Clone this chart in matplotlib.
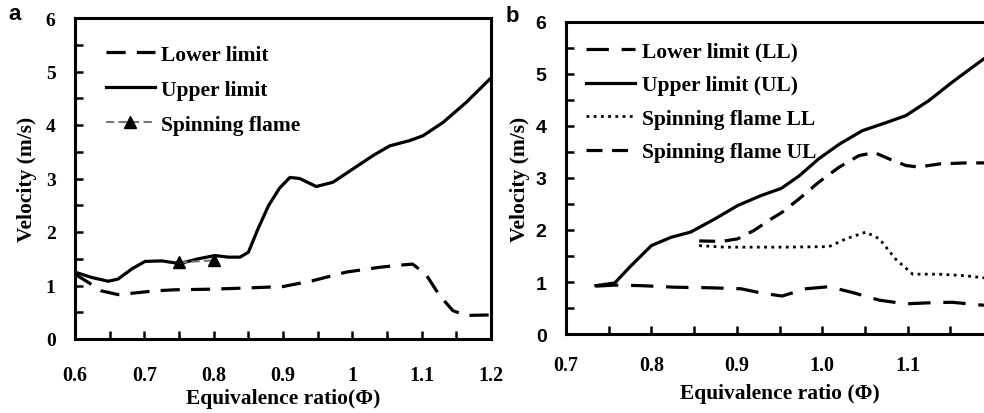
import matplotlib
matplotlib.use("Agg")
import matplotlib.pyplot as plt
from matplotlib.ticker import MultipleLocator

# ---------------- Panel a data ----------------
a_upper_x = [0.600, 0.624, 0.648, 0.662, 0.682, 0.701, 0.725, 0.751, 0.778, 0.802,
             0.821, 0.838, 0.850, 0.864, 0.879, 0.895, 0.910, 0.924, 0.948, 0.972,
             1.001, 1.030, 1.054, 1.083, 1.102, 1.131, 1.164, 1.200]
a_upper_y = [1.25, 1.15, 1.08, 1.12, 1.31, 1.45, 1.46, 1.41, 1.50, 1.56,
             1.53, 1.53, 1.62, 2.06, 2.49, 2.82, 3.02, 3.00, 2.85, 2.93,
             3.18, 3.43, 3.61, 3.71, 3.80, 4.05, 4.42, 4.88]
a_lower_x = [0.600, 0.619, 0.638, 0.662, 0.686, 0.715, 0.744, 0.792, 0.840, 0.900,
             0.943, 0.991, 1.039, 1.068, 1.087, 1.106, 1.126, 1.145, 1.164, 1.200]
a_lower_y = [1.21, 1.06, 0.90, 0.83, 0.86, 0.90, 0.92, 0.93, 0.95, 0.98,
             1.09, 1.25, 1.34, 1.38, 1.40, 1.21, 0.81, 0.53, 0.44, 0.45]
a_spin_x = [0.75, 0.80]
a_spin_y = [1.43, 1.47]

# ---------------- Panel b data ----------------
b_upper_x = [0.735, 0.757, 0.776, 0.800, 0.823, 0.846, 0.874, 0.901, 0.928, 0.952,
             0.973, 0.996, 1.020, 1.047, 1.074, 1.098, 1.125, 1.152, 1.180, 1.200]
b_upper_y = [0.93, 0.98, 1.31, 1.70, 1.86, 1.96, 2.21, 2.47, 2.66, 2.80,
             3.04, 3.37, 3.65, 3.91, 4.06, 4.20, 4.49, 4.84, 5.18, 5.42]
b_lower_x = [0.735, 0.757, 0.788, 0.827, 0.866, 0.905, 0.928, 0.953, 0.981, 1.008,
             1.035, 1.067, 1.098, 1.125, 1.152, 1.184, 1.200]
b_lower_y = [0.92, 0.94, 0.93, 0.90, 0.89, 0.87, 0.79, 0.73, 0.87, 0.91,
             0.80, 0.65, 0.58, 0.60, 0.61, 0.56, 0.54]
b_spin_ul_x = [0.856, 0.882, 0.901, 0.920, 0.940, 0.953, 0.973, 0.996, 1.020,
               1.043, 1.061, 1.078, 1.098, 1.113, 1.137, 1.168, 1.200]
b_spin_ul_y = [1.79, 1.78, 1.83, 1.99, 2.21, 2.34, 2.60, 2.92, 3.21,
               3.43, 3.49, 3.37, 3.24, 3.21, 3.27, 3.29, 3.29]
b_spin_ll_x = [0.856, 0.886, 0.953, 1.008, 1.028, 1.051, 1.067, 1.086, 1.106,
               1.137, 1.168, 1.200]
b_spin_ll_y = [1.70, 1.67, 1.67, 1.68, 1.83, 1.96, 1.83, 1.44, 1.15,
               1.15, 1.12, 1.06]

a_xticks = [0.6, 0.7, 0.8, 0.9, 1.0, 1.1, 1.2]
a_xticklabels = ["0.6", "0.7", "0.8", "0.9", "1", "1.1", "1.2"]
b_xticks = [0.7, 0.8, 0.9, 1.0, 1.1]
b_xticklabels = ["0.7", "0.8", "0.9", "1.0", "1.1"]
yticks = [0, 1, 2, 3, 4, 5, 6]

SERIF = "Liberation Serif"
SANS = "Liberation Sans"

fig = plt.figure(figsize=(9.84, 4.14), dpi=100)

def style_axes(ax, ytick_family, xpad):
    for s in ax.spines.values():
        s.set_linewidth(2.2)
    ax.tick_params(which="both", direction="in", length=6, width=1.8,
                   top=False, right=False)
    ax.tick_params(axis="x", which="major", pad=xpad)
    ax.tick_params(axis="y", which="major", pad=14)
    for lab in ax.get_yticklabels():
        lab.set_fontfamily(ytick_family)
        lab.set_fontweight("bold")
        lab.set_fontsize(14)
    for lab in ax.get_xticklabels():
        lab.set_fontfamily(SERIF)
        lab.set_fontweight("bold")
        lab.set_fontsize(14.5)

# ---------------- Panel a ----------------
axa = fig.add_axes([75/984, 1-340/414, (491-75)/984, (340-19)/414])
axa.plot(a_lower_x, a_lower_y, color="black", lw=2.3, dashes=(6, 3.5),
         label="Lower limit")
axa.plot(a_upper_x, a_upper_y, color="black", lw=2.3, label="Upper limit",
         solid_joinstyle="round")
axa.plot(a_spin_x, a_spin_y, color="#777777", lw=1.5, dashes=(4, 2),
         marker="^", markersize=9, markerfacecolor="black",
         markeredgecolor="black", label="Spinning flame")
axa.set_xlim(0.6, 1.2)
axa.set_ylim(0, 6)
axa.set_xticks(a_xticks)
axa.set_xticklabels(a_xticklabels)
axa.xaxis.set_minor_locator(MultipleLocator(0.05))
axa.set_yticks(yticks)
axa.yaxis.set_minor_locator(MultipleLocator(0.5))
style_axes(axa, SERIF, 19)
axa.set_xlabel("Equivalence ratio(Φ)", fontfamily=SERIF, fontweight="bold",
               fontsize=15.5, labelpad=2)
axa.set_ylabel("Velocity (m/s)", fontfamily=SERIF, fontweight="bold",
               fontsize=15.5, labelpad=6)
axa.legend(loc="upper left", bbox_to_anchor=(0.053, 0.944), frameon=False,
           prop={"family": SERIF, "weight": "bold", "size": 15.5},
           handlelength=2.3, handletextpad=0.25, labelspacing=0.70,
           borderaxespad=0)
fig.text(15/984, 1-15/414, "a", fontfamily=SANS, fontweight="bold",
         fontsize=16, ha="center", va="center")

# ---------------- Panel b ----------------
axb = fig.add_axes([566/984, 1-335/414, 427/984, (335-23)/414])
axb.plot(b_lower_x, b_lower_y, color="black", lw=2.3, dashes=(7, 4),
         label="Lower limit (LL)")
axb.plot(b_upper_x, b_upper_y, color="black", lw=2.3, label="Upper limit (UL)",
         solid_joinstyle="round")
axb.plot(b_spin_ll_x, b_spin_ll_y, color="black", lw=2.0, dashes=(1, 1.6),
         label="Spinning flame LL")
axb.plot(b_spin_ul_x, b_spin_ul_y, color="black", lw=2.3, dashes=(5, 3),
         label="Spinning flame UL")
axb.set_xlim(0.7, 1.2)
axb.set_ylim(0, 6)
axb.set_xticks(b_xticks)
axb.set_xticklabels(b_xticklabels)
axb.xaxis.set_minor_locator(MultipleLocator(0.05))
axb.set_yticks(yticks)
axb.yaxis.set_minor_locator(MultipleLocator(0.5))
style_axes(axb, SANS, 15)
axb.set_xlabel("Equivalence ratio (Φ)", fontfamily=SERIF, fontweight="bold",
               fontsize=15.5, labelpad=6)
axb.set_ylabel("Velocity (m/s)", fontfamily=SERIF, fontweight="bold",
               fontsize=15.5, labelpad=4)
axb.legend(loc="upper left", bbox_to_anchor=(0.026, 0.964), frameon=False,
           prop={"family": SERIF, "weight": "bold", "size": 15.5},
           handlelength=2.3, handletextpad=0.33, labelspacing=0.62,
           borderaxespad=0)
fig.text(512/984, 1-17/414, "b", fontfamily=SANS, fontweight="bold",
         fontsize=16, ha="center", va="center")

fig.savefig("out.png", dpi=100)
